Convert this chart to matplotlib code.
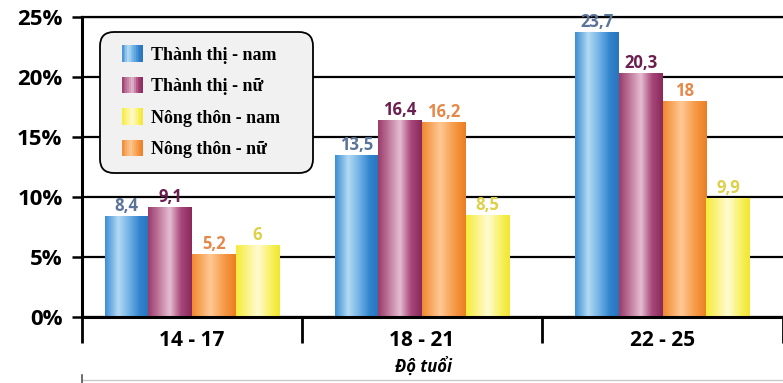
import numpy as np
import matplotlib
matplotlib.use("Agg")
import matplotlib.pyplot as plt
from matplotlib.colors import LinearSegmentedColormap
from matplotlib.patches import Rectangle, FancyBboxPatch
from matplotlib.legend_handler import HandlerBase
from matplotlib.lines import Line2D

# Data: share (%) by age group, area and sex
age_groups = ["14 - 17", "18 - 21", "22 - 25"]
series_names = ["Thành thị - nam", "Thành thị - nữ", "Nông thôn - nữ", "Nông thôn - nam"]
urban_male = [8.4, 13.5, 23.7]
urban_female = [9.1, 16.4, 20.3]
rural_female = [5.2, 16.2, 18.0]
rural_male = [6.0, 8.5, 9.9]
value_labels = [["8,4", "13,5", "23,7"],
                ["9,1", "16,4", "20,3"],
                ["5,2", "16,2", "18"],
                ["6", "8,5", "9,9"]]
y_ticks = [0, 5, 10, 15, 20, 25]
y_tick_labels = ["0%", "5%", "10%", "15%", "20%", "25%"]
x_title = "Độ tuổi"

series_values = [urban_male, urban_female, rural_female, rural_male]

# Cylinder-like horizontal shading for each series
gradients = [
    [(0.0, "#3d8fd4"), (0.3, "#b4daf3"), (0.55, "#72b2e6"), (0.8, "#3184cd"), (1.0, "#2a74bc")],
    [(0.0, "#9b3c6c"), (0.25, "#c07a9e"), (0.5, "#e6bdd2"), (0.75, "#a9497b"), (1.0, "#8a2a5c")],
    [(0.0, "#f08a30"), (0.42, "#ffc995"), (0.72, "#f69c4a"), (1.0, "#ec7e22")],
    [(0.0, "#f6ec3a"), (0.5, "#fffbd2"), (0.8, "#f8f060"), (1.0, "#f2e630")],
]
cmaps = [LinearSegmentedColormap.from_list(f"bar{i}", g) for i, g in enumerate(gradients)]
label_colors = ["#5a7398", "#6b1f4f", "#e6884a", "#ddd04a"]

W, H = 783, 383
fig = plt.figure(figsize=(W / 100, H / 100), dpi=100)
fig.patch.set_facecolor("white")
ax = fig.add_axes([82 / W, 66 / H, 701 / W, 300 / H])

# The first group is partly cut by the y axis; each group sits in the middle
# of its visible slot between the divider ticks.
x_left = -0.413
n = len(age_groups)
bounds = np.concatenate([[x_left], np.arange(n) + 0.5])
centers = (bounds[:-1] + bounds[1:]) / 2
bar_w = 0.1815
grad = np.linspace(0, 1, 64).reshape(1, -1)

for si, (vals, cmap) in enumerate(zip(series_values, cmaps)):
    offset = (si - 1.5) * bar_w
    for gi, v in enumerate(vals):
        xc = centers[gi] + offset
        ax.imshow(grad, extent=[xc - bar_w / 2, xc + bar_w / 2, 0, v], aspect="auto",
                  cmap=cmap, interpolation="bilinear", zorder=3)
        ax.annotate(value_labels[si][gi], (xc, v),
                    xytext=(0, 1), textcoords="offset points",
                    ha="center", va="bottom", fontsize=12, fontweight="bold",
                    family="Open Sans", color=label_colors[si], zorder=4,
                    annotation_clip=False)

ax.set_xlim(x_left, n - 0.5)
ax.set_ylim(0, 25)

# Grid and spines
ax.set_yticks(y_ticks)
ax.set_yticklabels(y_tick_labels, fontsize=16, fontweight="bold", family="Open Sans")
ax.yaxis.grid(True, color="black", linewidth=1.6, zorder=1)
ax.set_axisbelow(True)
ax.tick_params(axis="y", length=7, width=1.8, pad=7, color="black")
ax.spines["right"].set_visible(False)
ax.spines["top"].set_linewidth(1.6)
ax.spines["left"].set_linewidth(2.2)
ax.spines["bottom"].set_linewidth(2.2)
ax.spines["bottom"].set_zorder(5)

# Group dividers as long ticks; group names as minor tick labels
ax.set_xticks(bounds)
ax.set_xticklabels([])
ax.tick_params(axis="x", which="major", length=19, width=2, color="black")
ax.set_xticks(centers, minor=True)
ax.set_xticklabels(age_groups, minor=True, fontsize=15, fontweight="bold", family="Open Sans")
ax.tick_params(axis="x", which="minor", length=0, pad=9)

fig.text(452 / W, (H - 366) / H, x_title, ha="right", va="center",
         fontsize=12, fontweight="bold", style="italic", family="Open Sans")

# Faint frame line at the bottom
fig.add_artist(Line2D([82 / W, 1], [3 / H, 3 / H], color="#c8c8c8", lw=1))
fig.add_artist(Line2D([82 / W, 82 / W], [0, 8 / H], color="#555555", lw=1.2))


class GradientHandler(HandlerBase):
    def __init__(self, cmap):
        super().__init__()
        self.cmap = cmap

    def create_artists(self, legend, orig_handle, xdescent, ydescent, width, height,
                       fontsize, trans):
        k_n = 12
        arts = []
        for k in range(k_n):
            r = Rectangle((-xdescent + width * k / k_n, -ydescent), width / k_n + 0.3, height,
                          facecolor=self.cmap((k + 0.5) / k_n), edgecolor="none",
                          transform=trans)
            arts.append(r)
        return arts


# Rounded legend panel (drawn in inches so the corners stay round)
panel = FancyBboxPatch((100 / 100, (H - 173) / 100), 213 / 100, 141 / 100,
                       boxstyle="round,pad=0,rounding_size=0.14",
                       transform=fig.dpi_scale_trans, facecolor="#f1f1f1",
                       edgecolor="black", linewidth=1.3, zorder=10)
fig.add_artist(panel)

legend_order = [0, 1, 3, 2]
handles = [Rectangle((0, 0), 1, 1) for _ in legend_order]
labels = [series_names[i] for i in legend_order]
hmap = {h: GradientHandler(cmaps[i]) for h, i in zip(handles, legend_order)}
leg = fig.legend(handles, labels, handler_map=hmap, loc="upper left",
                 bbox_to_anchor=(122 / W, (H - 45) / H), bbox_transform=fig.transFigure,
                 borderaxespad=0, borderpad=0, frameon=False,
                 prop={"family": "Liberation Serif", "weight": "bold", "size": 13},
                 handlelength=1.15, handleheight=1.05, handletextpad=0.45,
                 labelspacing=0.72)
leg.set_zorder(11)

fig.savefig("out.png", dpi=100, facecolor="white")
